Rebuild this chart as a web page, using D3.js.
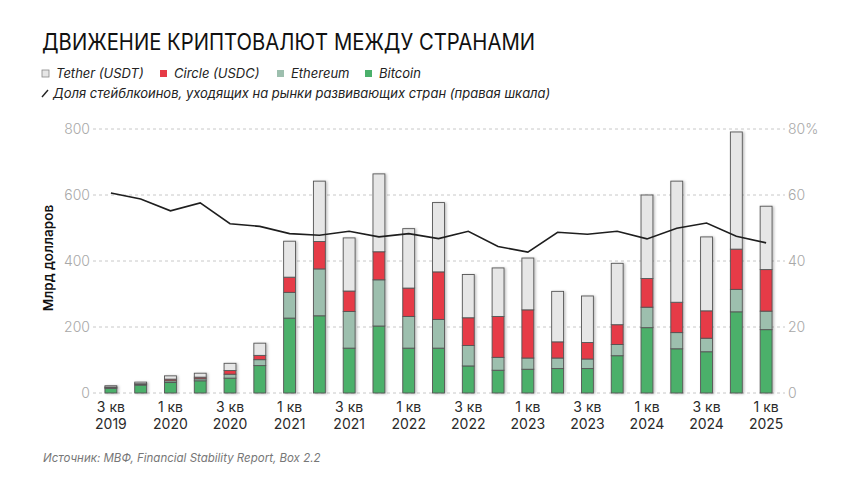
<!DOCTYPE html>
<html lang="ru">
<head>
<meta charset="utf-8">
<title>Движение криптовалют между странами</title>
<script src="https://cdn.jsdelivr.net/npm/d3@7"></script>
<style>
  body { margin: 0; background: #fff; }
  svg text { font-family: Inter, "Noto Sans", sans-serif; }
  .grid line { stroke: #c8c8c8; stroke-dasharray: 3,3; }
  .tick-lbl { fill: #a8a8a8; font-size: 14px; font-weight: 300; }
</style>
</head>
<body>
<script>
// quarters, Q3 2019 .. Q1 2025
var quarters = ["3 кв 2019","4 кв 2019","1 кв 2020","2 кв 2020","3 кв 2020","4 кв 2020",
  "1 кв 2021","2 кв 2021","3 кв 2021","4 кв 2021","1 кв 2022","2 кв 2022",
  "3 кв 2022","4 кв 2022","1 кв 2023","2 кв 2023","3 кв 2023","4 кв 2023",
  "1 кв 2024","2 кв 2024","3 кв 2024","4 кв 2024","1 кв 2025"];

// billions of dollars
var bitcoin  = [14, 24, 32, 37, 45, 83, 227, 234, 136, 203, 136, 136, 82, 69, 72, 74, 74, 113, 198, 134, 125, 246, 192];
var ethereum = [3, 3, 5, 6, 12, 18, 78, 142, 111, 140, 96, 87, 62, 39, 34, 32, 29, 34, 62, 49, 41, 68, 56];
var circle   = [1, 1, 5, 5, 11, 13, 46, 83, 62, 85, 86, 144, 84, 124, 146, 49, 50, 60, 87, 92, 83, 122, 126];
var tether   = [4, 5, 10, 12, 22, 37, 109, 183, 161, 236, 180, 210, 131, 147, 157, 153, 141, 186, 253, 367, 224, 355, 192];

// share going to emerging markets, %
var share = [60.6, 58.8, 55.2, 57.6, 51.3, 50.5, 48.3, 47.8, 49.0, 47.3, 48.3, 46.8,
  49.0, 44.4, 42.7, 48.7, 48.1, 49.0, 46.7, 49.9, 51.5, 47.5, 45.5];

var leftTicks = [0, 200, 400, 600, 800];
var rightTicks = [0, 20, 40, 60, 80];

var seriesKeys = ["bitcoin", "ethereum", "circle", "tether"];
var colors = { bitcoin: "#4bb06b", ethereum: "#9dbfae", circle: "#e63a46", tether: "#e6e6e6" };
var legendItems = [
  { key: "tether", label: "Tether (USDT)", x: 42 },
  { key: "circle", label: "Circle (USDC)", x: 160 },
  { key: "ethereum", label: "Ethereum", x: 277 },
  { key: "bitcoin", label: "Bitcoin", x: 365 }
];

var w = 860, h = 484;
var svg = d3.select("body").append("svg").attr("width", w).attr("height", h);

var defs = svg.append("defs");
var f = defs.append("filter").attr("id", "shadow").attr("x", "-30%").attr("width", "170%");
f.append("feDropShadow").attr("dx", 1.5).attr("dy", 0.5).attr("stdDeviation", 1)
  .attr("flood-color", "#000").attr("flood-opacity", 0.25);

var rows = quarters.map(function(q, i) {
  return { q: q, bitcoin: bitcoin[i], ethereum: ethereum[i], circle: circle[i], tether: tether[i], share: share[i] };
});

var x = d3.scaleBand().domain(quarters).range([96, 781]).paddingInner(0.6).paddingOuter(0.3);
var y = d3.scaleLinear().domain([0, 800]).range([393, 129]);
var y2 = d3.scaleLinear().domain([0, 80]).range([393, 129]);

// grid
svg.append("g").attr("class", "grid").selectAll("line")
  .data(leftTicks).enter().append("line")
  .attr("x1", 93).attr("x2", 785)
  .attr("y1", function(d) { return y(d); }).attr("y2", function(d) { return y(d); });

// left axis labels
svg.append("g").selectAll("text").data(leftTicks).enter().append("text")
  .attr("class", "tick-lbl").attr("x", 90).attr("y", function(d) { return y(d) + 5; })
  .attr("text-anchor", "end").text(function(d) { return d; });

// right axis labels
svg.append("g").selectAll("text").data(rightTicks).enter().append("text")
  .attr("class", "tick-lbl").attr("x", 788).attr("y", function(d) { return y2(d) + 5; })
  .text(function(d) { return d === 80 ? "80%" : d; });

// stacked bars
var stack = d3.stack().keys(seriesKeys)(rows);
svg.append("g").attr("filter", "url(#shadow)").selectAll("g")
  .data(stack).enter().append("g")
  .attr("fill", function(d) { return colors[d.key]; })
  .selectAll("rect").data(function(d) { return d; }).enter().append("rect")
  .attr("x", function(d) { return x(d.data.q); })
  .attr("width", x.bandwidth())
  .attr("y", function(d) { return y(d[1]); })
  .attr("height", function(d) { return y(d[0]) - y(d[1]); })
  .attr("stroke", "#555").attr("stroke-width", 0.9);

// share line
var line = d3.line()
  .x(function(d) { return x(d.q) + x.bandwidth() / 2; })
  .y(function(d) { return y2(d.share); })
  .curve(d3.curveLinear);
svg.append("path").datum(rows).attr("d", line)
  .attr("fill", "none").attr("stroke", "#1e1e1e").attr("stroke-width", 1.6);

// x labels, every other quarter
var xl = svg.append("g").selectAll("text")
  .data(quarters.filter(function(d, i) { return i % 2 === 0; }))
  .enter().append("text")
  .attr("text-anchor", "middle").attr("fill", "#2a2a2a").attr("font-size", "14px")
  .attr("x", function(d) { return x(d) + x.bandwidth() / 2; });
xl.append("tspan").attr("y", 412).text(function(d) { return d.split(" ").slice(0, 2).join(" "); })
  .attr("x", function(d) { return x(d) + x.bandwidth() / 2; });
xl.append("tspan").attr("y", 429).text(function(d) { return d.split(" ")[2]; })
  .attr("x", function(d) { return x(d) + x.bandwidth() / 2; });

// y axis title
svg.append("text")
  .attr("transform", "translate(53,258) rotate(-90)")
  .attr("text-anchor", "middle").attr("font-size", "13.5px").attr("font-weight", 600)
  .attr("fill", "#111").text("Млрд долларов");

// title
svg.append("text").attr("x", 42).attr("y", 50)
  .attr("font-size", "23px").attr("font-weight", 400).attr("fill", "#111")
  .attr("textLength", 493).attr("lengthAdjust", "spacingAndGlyphs")
  .text("ДВИЖЕНИЕ КРИПТОВАЛЮТ МЕЖДУ СТРАНАМИ");

// legend
var lg = svg.append("g").selectAll("g").data(legendItems).enter().append("g");
lg.append("rect")
  .attr("x", function(d) { return d.x; }).attr("y", 70).attr("width", 7).attr("height", 7)
  .attr("fill", function(d) { return colors[d.key]; })
  .attr("stroke", function(d) { return d.key === "tether" ? "#888" : "none"; })
  .attr("stroke-width", 0.8);
lg.append("text")
  .attr("x", function(d) { return d.x + 14; }).attr("y", 78)
  .attr("font-size", "13px").attr("font-style", "italic").attr("fill", "#222")
  .text(function(d) { return d.label; });

svg.append("line").attr("x1", 42).attr("y1", 97).attr("x2", 48).attr("y2", 90)
  .attr("stroke", "#222").attr("stroke-width", 1.4);
svg.append("text").attr("x", 53).attr("y", 98)
  .attr("font-size", "13px").attr("font-style", "italic").attr("fill", "#222")
  .text("Доля стейблкоинов, уходящих на рынки развивающих стран (правая шкала)");

// source
svg.append("text").attr("x", 43).attr("y", 462)
  .attr("font-size", "11.5px").attr("font-style", "italic").attr("fill", "#777")
  .text("Источник: МВФ, Financial Stability Report, Box 2.2");
</script>
</body>
</html>
